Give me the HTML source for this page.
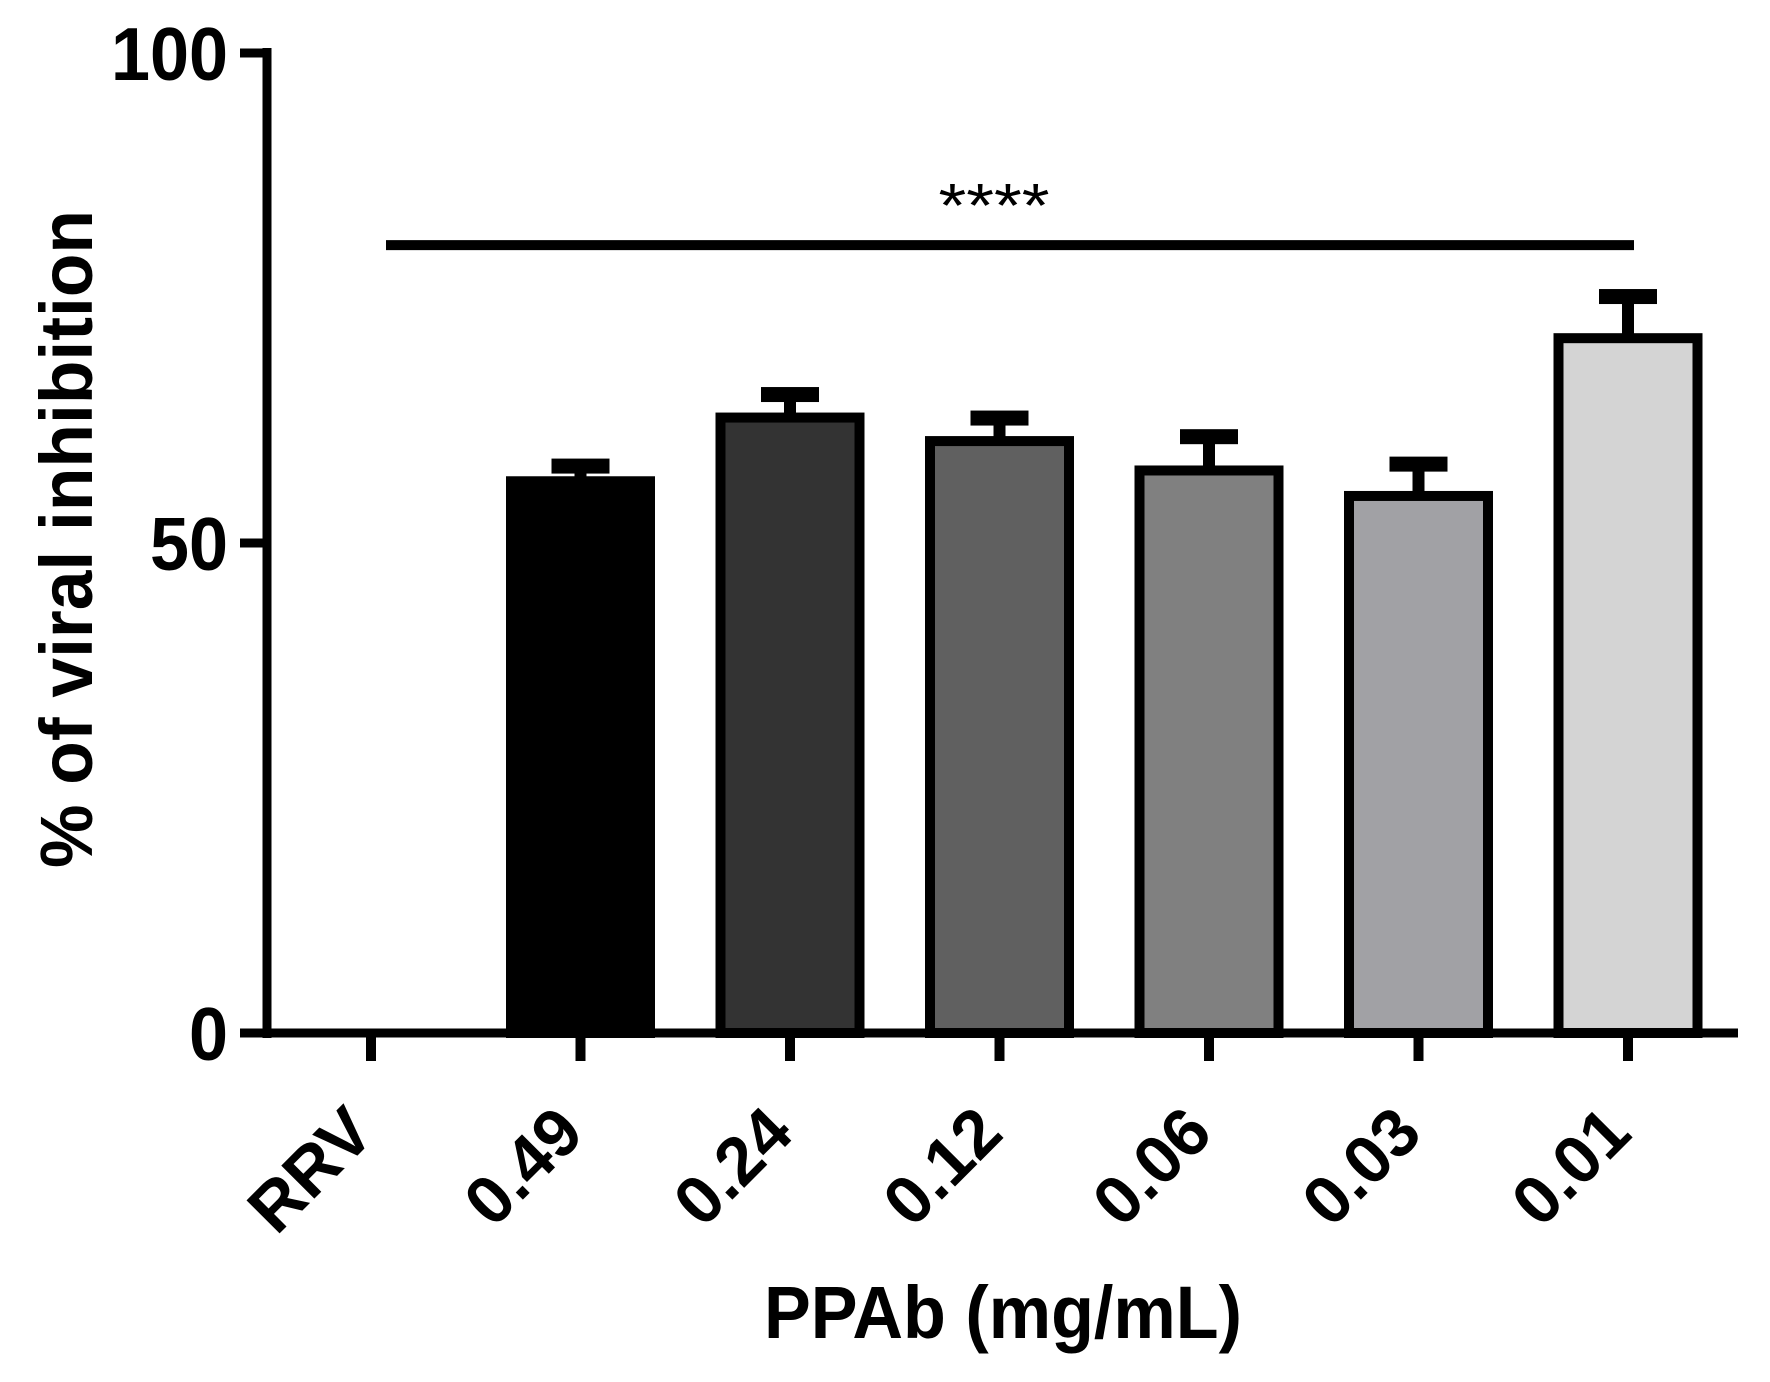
<!DOCTYPE html>
<html><head><meta charset="utf-8"><style>
html,body{margin:0;padding:0;background:#fff;}
svg{display:block;}
text{font-family:"Liberation Sans",Arial,sans-serif;fill:#000;}
</style></head><body>
<svg id="chart" width="1770" height="1382" viewBox="0 0 1770 1382" xmlns="http://www.w3.org/2000/svg">
<g id="bars"></g>
<g id="axes"></g>
<text transform="translate(92,539) rotate(-90)" text-anchor="middle" font-size="74" font-weight="bold" textLength="658" lengthAdjust="spacingAndGlyphs">% of viral inhibition</text>
<text x="1003" y="1338" text-anchor="middle" font-size="74" font-weight="bold" textLength="478" lengthAdjust="spacingAndGlyphs">PPAb (mg/mL)</text>
</svg>
<script>
const categories = ["RRV","0.49","0.24","0.12","0.06","0.03","0.01"];
const means = [0, 56.3, 62.8, 60.4, 57.4, 54.8, 70.9];
const errors = [0, 1.6, 2.4, 2.4, 3.5, 3.3, 4.3];
const fills = ["#ffffff","#000000","#333333","#606060","#808080","#a1a1a5","#d4d4d4"];
const yTicks = [0, 50, 100];
const yTickLabels = ["0","50","100"];
const sigLabel = "****";
const sigValue = 80.4;
const sigFrom = 0, sigTo = 6;

const NS = "http://www.w3.org/2000/svg";
const y0 = 1033, yTop = 53;
function yScale(v){ return y0 - (v/100)*(y0-yTop); }
function xScale(i){ return 371 + i*209.5; }
function mk(tag, attrs, parent){
  const e = document.createElementNS(NS, tag);
  for (const k in attrs) e.setAttribute(k, attrs[k]);
  parent.appendChild(e); return e;
}
const bars = document.getElementById('bars');
const axes = document.getElementById('axes');
const barW = 139, sw = 10;

categories.forEach((c,i)=>{
  if (means[i] <= 0) return;
  const cx = xScale(i);
  const yt = yScale(means[i]);
  const ye = yScale(means[i]+errors[i]);
  const stem = mk('rect', {x: cx-6, y: ye, width: 12, height: yt-ye, fill:'#000'}, bars);
  
  
  const cap = mk('rect', {x: cx-29, y: ye-7, width: 58, height: 15, fill:'#000'}, bars);
  
  
  const r = mk('rect', {x: cx-barW/2, y: yt, width: barW, height: y0-yt, fill: fills[i], stroke:'#000', 'stroke-width': sw}, bars);
  
  
});

const ya = mk('line', {x1:267, y1:yTop-5, x2:267, y2:y0+5, stroke:'#000','stroke-width':9}, axes);


yTicks.forEach((t,i)=>{
  const y = yScale(t);
  const tk = mk('line', {x1:240, y1:y, x2:267, y2:y, stroke:'#000','stroke-width':9}, axes);
  
  
  const lbl = yTickLabels[i];
  const tx = mk('text', {x:228, y:y+27, 'text-anchor':'end','font-size':75,'font-weight':'bold', textLength: lbl.length*39, lengthAdjust:'spacingAndGlyphs'}, axes);
  tx.textContent = lbl;
  
  
});
const xa = mk('line', {x1:263, y1:y0, x2:1738, y2:y0, stroke:'#000','stroke-width':9}, axes);


categories.forEach((c,i)=>{
  const x = xScale(i);
  const tk = mk('line', {x1:x, y1:y0, x2:x, y2:1061, stroke:'#000','stroke-width':10}, axes);
  
  
  const tx = mk('text', {transform:`translate(${x+6},1136) rotate(-45)`, 'text-anchor':'end','font-size':68,'font-weight':'bold'}, axes);
  tx.textContent = c;
  
  
});
const sy = yScale(sigValue);
const sl = mk('line', {x1:xScale(sigFrom)+15, y1:sy, x2:xScale(sigTo)+6, y2:sy, stroke:'#000','stroke-width':10}, axes);


const st = mk('text', {x:994, y:sy-18, 'text-anchor':'middle','font-size':62, textLength:111, lengthAdjust:'spacingAndGlyphs'}, axes);
st.textContent = sigLabel;


</script>
</body></html>
